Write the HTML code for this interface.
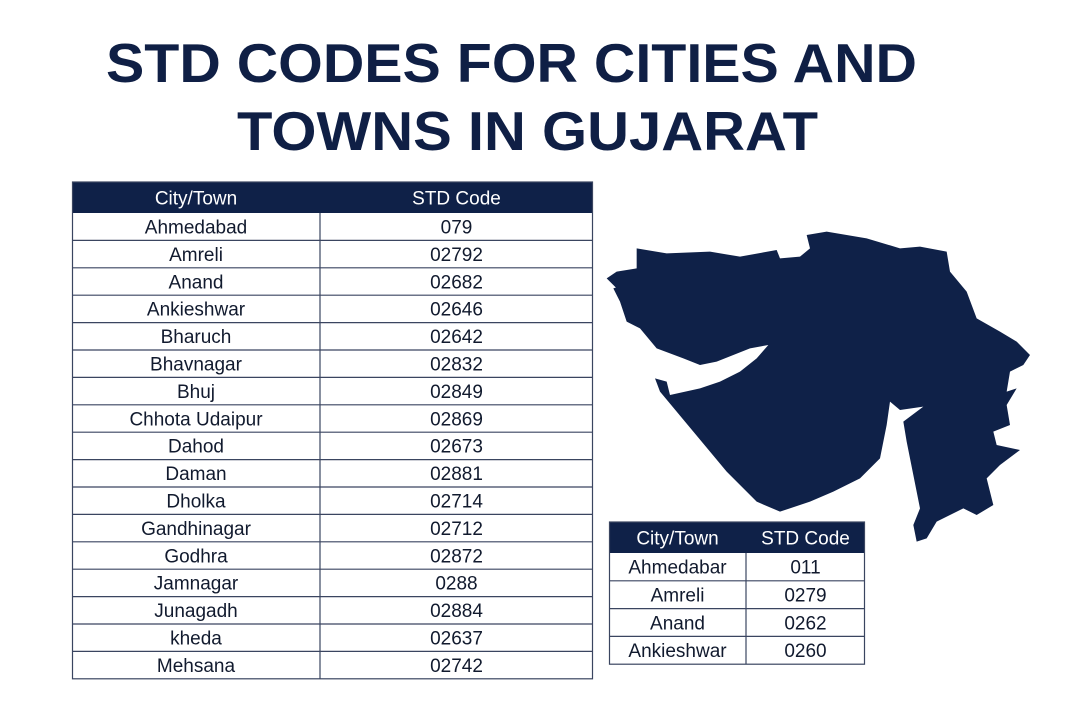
<!DOCTYPE html>
<html><head><meta charset="utf-8"><style>
html,body{margin:0;padding:0;background:#fff;}
body{width:1068px;height:712px;position:relative;overflow:hidden;font-family:"Liberation Sans",sans-serif;}
svg{position:absolute;left:0;top:0;}
</style></head><body>
<svg id="s" width="1068" height="712" viewBox="0 0 1068 712">
  <g fill="#0f1f45" font-weight="bold" font-family="Liberation Sans, sans-serif" font-size="55">
    <text x="106" y="82" textLength="811" lengthAdjust="spacingAndGlyphs">STD CODES FOR CITIES AND</text>
    <text x="237" y="150" textLength="581" lengthAdjust="spacingAndGlyphs">TOWNS IN GUJARAT</text>
  </g>
  <g transform="translate(600,225) scale(0.33333)">
    <path fill="#0f2148" d="M110,70 L200,85 L330,80 L420,95 L530,75 L540,100 L600,95 L630,70 L620,30 L680,20 L800,40 L900,70 L960,65 L1040,80 L1050,140 L1100,200 L1130,280 L1200,320 L1250,350 L1290,390 L1270,420 L1230,440 L1220,500 L1250,490 L1220,540 L1230,600 L1180,620 L1190,660 L1260,675 L1200,720 L1160,760 L1180,840 L1130,870 L1090,850 L1010,890 L980,940 L950,950 L940,900 L960,850 L940,750 L920,650 L910,590 L970,545 L900,555 L870,530 L860,600 L840,700 L780,760 L700,800 L630,830 L540,860 L470,830 L380,740 L280,620 L180,500 L165,460 L200,470 L210,510 L300,490 L360,470 L420,440 L470,400 L505,360 L450,370 L350,410 L300,420 L250,400 L170,370 L120,310 L80,290 L60,230 L40,190 L100,170 L60,200 L20,160 L50,140 L110,130 Z"/>
  </g>
  <g id="t1"></g>
  <g id="t2"></g>
</svg>
<script>
const cities = ["Ahmedabad","Amreli","Anand","Ankieshwar","Bharuch","Bhavnagar","Bhuj","Chhota Udaipur","Dahod","Daman","Dholka","Gandhinagar","Godhra","Jamnagar","Junagadh","kheda","Mehsana"];
const codes = ["079","02792","02682","02646","02642","02832","02849","02869","02673","02881","02714","02712","02872","0288","02884","02637","02742"];
const smallCities = ["Ahmedabar","Amreli","Anand","Ankieshwar"];
const smallCodes = ["011","0279","0262","0260"];
const NS="http://www.w3.org/2000/svg";
function mk(tag,attrs,parent){const e=document.createElementNS(NS,tag);for(const k in attrs)e.setAttribute(k,attrs[k]);parent.appendChild(e);return e;}
function table(g,x0,x1,xd,y0,hh,rh,fs,hfs,names,vals){
  const n=names.length, yEnd=y0+hh+rh*n;
  const hdr=mk('rect',{x:x0,y:y0,width:x1-x0,height:hh,fill:'#0f2148'},g);
  
  
  const h1=mk('text',{x:(x0+xd)/2,y:y0+hh/2+hfs*0.36,'text-anchor':'middle',fill:'#fff','font-size':hfs},g);h1.textContent='City/Town';
  
  
  const h2=mk('text',{x:(xd+x1)/2,y:y0+hh/2+hfs*0.36,'text-anchor':'middle',fill:'#fff','font-size':hfs},g);h2.textContent='STD Code';
  
  
  mk('rect',{x:x0+0.5,y:y0,width:x1-x0-1,height:yEnd-y0,fill:'none',stroke:'#3a4560','stroke-width':1.2},g);
  mk('line',{x1:xd,x2:xd,y1:y0+hh,y2:yEnd,stroke:'#3a4560','stroke-width':1.2},g);
  for(let i=0;i<n;i++){
    const y=y0+hh+rh*i;
    if(i>0)mk('line',{x1:x0,x2:x1,y1:y,y2:y,stroke:'#3a4560','stroke-width':1.2},g);
    const a=mk('text',{x:(x0+xd)/2,y:y+rh/2+fs*0.36,'text-anchor':'middle',fill:'#111a2e','font-size':fs},g);a.textContent=names[i];
    
    
    const b=mk('text',{x:(xd+x1)/2,y:y+rh/2+fs*0.36,'text-anchor':'middle',fill:'#111a2e','font-size':fs},g);b.textContent=vals[i];
    
    
  }
}
table(document.getElementById('t1'),72,593,320,182,31,27.4,19,19,cities,codes);
table(document.getElementById('t2'),609,865,746,522,31,27.8,19,19,smallCities,smallCodes);
</script>
</body></html>
